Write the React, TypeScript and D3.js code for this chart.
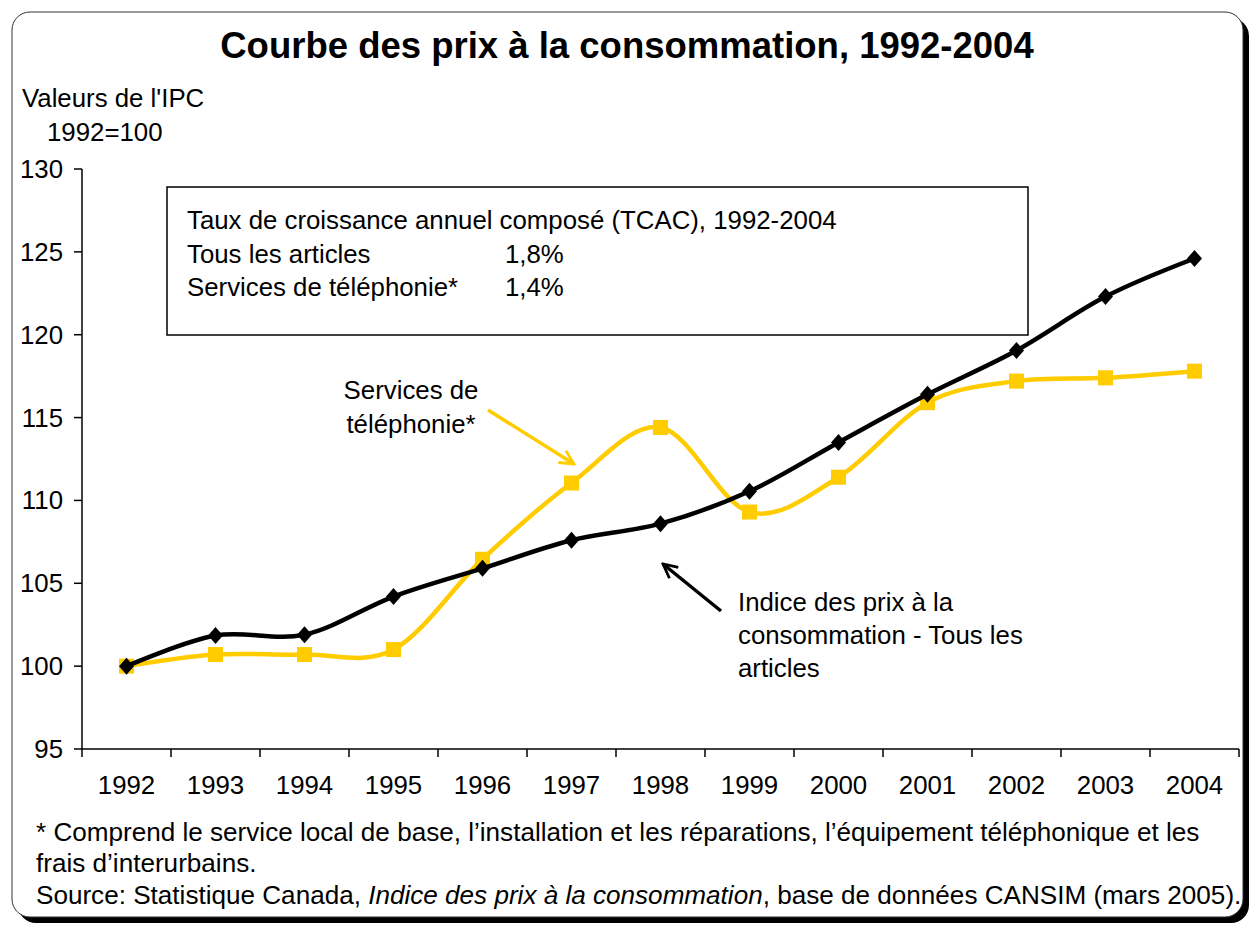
import React from "react";
import * as d3 from "d3";

const years = ["1992","1993","1994","1995","1996","1997","1998","1999","2000","2001","2002","2003","2004"];
const cpiAll = [100, 101.85, 101.9, 104.2, 105.9, 107.6, 108.6, 110.55, 113.5, 116.4, 119.05, 122.3, 124.6];
const cpiPhone = [100, 100.7, 100.7, 101.0, 106.45, 111.05, 114.4, 109.3, 111.4, 115.9, 117.2, 117.4, 117.8];
const yTicks = [95, 100, 105, 110, 115, 120, 125, 130];
const title = "Courbe des prix à la consommation, 1992-2004";
const boxLines = [
  ["Taux de croissance annuel composé (TCAC), 1992-2004", ""],
  ["Tous les articles", "1,8%"],
  ["Services de téléphonie*", "1,4%"],
];

const FONT = "'Liberation Sans', Arial, sans-serif";
const FS = 25.8;
const FN = 26.1;

export default function App() {
  const W = 1249, H = 928;
  const x = d3.scaleBand<string>().domain(years).range([82, 1239]).padding(0);
  const y = d3.scaleLinear().domain([95, 130]).range([749, 169]);
  const cx = (d: string) => (x(d) as number) + x.bandwidth() / 2;
  const line = d3.line<number>()
    .x((_, i) => cx(years[i]))
    .y((v) => y(v))
    .curve(d3.curveCardinal.tension(0));
  const boundaries = years.map((d) => x(d) as number).concat([1239]);
  const yellow = "#FFCC00";

  return (
    <svg width={W} height={H} style={{ position: "absolute", left: 0, top: 0 }} fontFamily={FONT}>
      <defs>
        <marker id="arrY" viewBox="0 0 10 10" refX="9" refY="5" markerWidth="5" markerHeight="5" orient="auto" markerUnits="strokeWidth">
          <path d="M1,1 L9,5 L1,9" fill="none" stroke={yellow} strokeWidth="1.6" />
        </marker>
        <marker id="arrB" viewBox="0 0 10 10" refX="9" refY="5" markerWidth="5" markerHeight="5" orient="auto" markerUnits="strokeWidth">
          <path d="M1,1 L9,5 L1,9" fill="none" stroke="#000" strokeWidth="1.6" />
        </marker>
      </defs>
      <rect x={0} y={0} width={W} height={H} fill="#fff" />
      {/* shadow */}
      <rect x={18} y={18} width={1231} height={905} rx={18} fill="#000" />
      <rect x={12} y={12} width={1231} height={905} rx={18} fill="#fff" stroke="#333" strokeWidth={1} />

      <text x={627} y={58} textAnchor="middle" fontSize={36.5} fontWeight="bold">{title}</text>
      <text x={22} y={107} fontSize={FS}>Valeurs de l'IPC</text>
      <text x={47} y={141} fontSize={FS}>1992=100</text>

      {/* y axis */}
      <line x1={82} y1={169} x2={82} y2={749} stroke="#000" strokeWidth={1.5} />
      {yTicks.map((t) => (
        <g key={t}>
          <line x1={74} x2={82} y1={y(t)} y2={y(t)} stroke="#000" strokeWidth={1.5} />
          <text x={63} y={y(t)} dy="0.35em" textAnchor="end" fontSize={FS}>{t}</text>
        </g>
      ))}
      {/* x axis */}
      <line x1={82} y1={749} x2={1239} y2={749} stroke="#000" strokeWidth={1.5} />
      {boundaries.map((b, i) => (
        <line key={i} x1={b} x2={b} y1={749} y2={757} stroke="#000" strokeWidth={1.5} />
      ))}
      {years.map((d) => (
        <text key={d} x={cx(d)} y={794} textAnchor="middle" fontSize={FS}>{d}</text>
      ))}

      {/* info box */}
      <rect x={167} y={187} width={861} height={148} fill="#fff" stroke="#000" strokeWidth={1.5} />
      {boxLines.map((l, i) => (
        <g key={i}>
          <text x={187} y={229 + i * 33.5} fontSize={FS}>{l[0]}</text>
          {l[1] && <text x={505} y={229 + i * 33.5} fontSize={FS}>{l[1]}</text>}
        </g>
      ))}

      {/* series */}
      <path d={line(cpiPhone) as string} fill="none" stroke={yellow} strokeWidth={4.5} />
      {cpiPhone.map((v, i) => (
        <rect key={i} x={cx(years[i]) - 7.5} y={y(v) - 7.5} width={15} height={15} fill={yellow} />
      ))}
      <path d={line(cpiAll) as string} fill="none" stroke="#000" strokeWidth={4.5} />
      {cpiAll.map((v, i) => (
        <path key={i} d={`M${cx(years[i])},${y(v) - 8.5} l7.5,8.5 l-7.5,8.5 l-7.5,-8.5 z`} fill="#000" />
      ))}

      {/* annotations */}
      <text x={411} y={399} textAnchor="middle" fontSize={FS}>Services de</text>
      <text x={411} y={433} textAnchor="middle" fontSize={FS}>téléphonie*</text>
      <line x1={488} y1={410} x2={574} y2={464} stroke={yellow} strokeWidth={3.5} markerEnd="url(#arrY)" />

      <line x1={721} y1={611} x2={663} y2={564} stroke="#000" strokeWidth={3.5} markerEnd="url(#arrB)" />
      <text x={738} y={611} fontSize={FS}>Indice des prix à la</text>
      <text x={738} y={644} fontSize={FS}>consommation - Tous les</text>
      <text x={738} y={677} fontSize={FS}>articles</text>

      {/* footnotes */}
      <text x={36} y={841} fontSize={FN}>* Comprend le service local de base, l’installation et les réparations, l’équipement téléphonique et les</text>
      <text x={36} y={872} fontSize={FN}>frais d’interurbains.</text>
      <text x={36} y={904} fontSize={FN}>
        Source: Statistique Canada, <tspan fontStyle="italic">Indice des prix à la consommation</tspan>, base de données CANSIM (mars 2005).
      </text>
    </svg>
  );
}
